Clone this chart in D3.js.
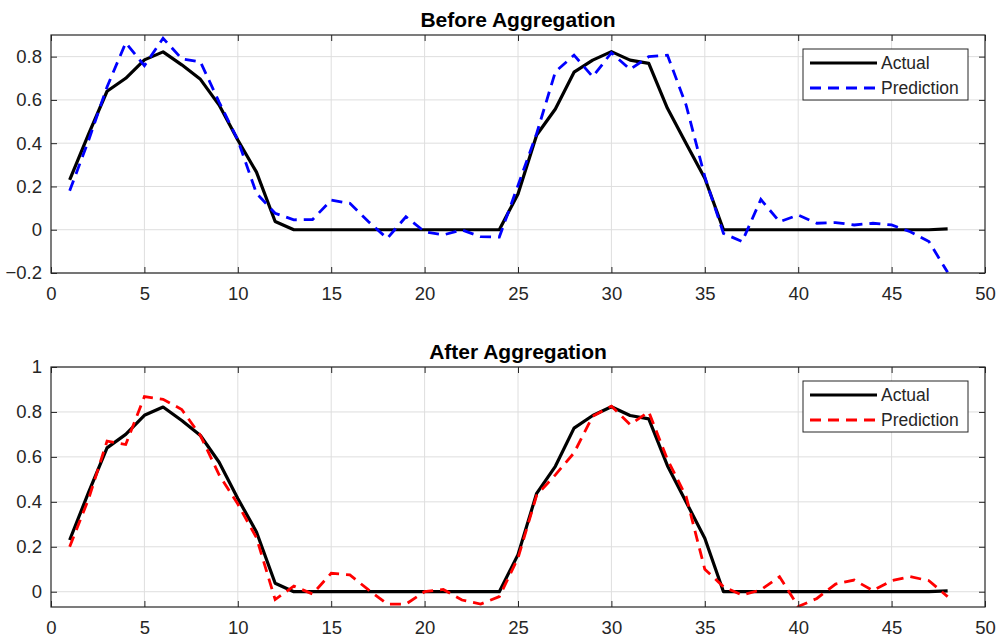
<!DOCTYPE html>
<html>
<head>
<meta charset="utf-8">
<script src="https://cdn.jsdelivr.net/npm/d3@7"></script>
<style>
  body { margin: 0; background: #fff; }
  svg { font-family: "Liberation Sans", Arial, sans-serif; }
</style>
</head>
<body>
<svg width="999" height="639"></svg>
<script>
// time steps 1..48
var steps = d3.range(1, 49);

var actual = [0.23, 0.44, 0.64, 0.70, 0.785, 0.822, 0.762, 0.695, 0.576, 0.415, 0.266, 0.038,
  0, 0, 0, 0, 0, 0, 0, 0, 0, 0, 0, 0,
  0.165, 0.438, 0.558, 0.728, 0.784, 0.823, 0.784, 0.769, 0.561, 0.399, 0.238, 0,
  0, 0, 0, 0, 0, 0, 0, 0, 0, 0, 0, 0.004];

var predBefore = [0.18, 0.41, 0.66, 0.864, 0.758, 0.885, 0.79, 0.776, 0.59, 0.415, 0.168, 0.076,
  0.046, 0.047, 0.137, 0.122, 0.037, -0.04, 0.06, -0.009, -0.024, -0.001, -0.032, -0.034,
  0.205, 0.445, 0.73, 0.807, 0.707, 0.818, 0.741, 0.80, 0.807, 0.576, 0.245, -0.017,
  -0.055, 0.14, 0.037, 0.068, 0.03, 0.033, 0.022, 0.03, 0.022, -0.009, -0.055, -0.197];

var predAfter = [0.20, 0.41, 0.67, 0.655, 0.868, 0.856, 0.811, 0.695, 0.52, 0.39, 0.24, -0.035,
  0.025, -0.01, 0.082, 0.075, 0.008, -0.055, -0.055, 0, 0.01, -0.037, -0.055, -0.022,
  0.15, 0.43, 0.52, 0.618, 0.781, 0.826, 0.744, 0.80, 0.588, 0.424, 0.10, 0.022,
  -0.015, 0.008, 0.067, -0.066, -0.03, 0.034, 0.052, 0.005, 0.049, 0.067, 0.049, -0.022];

var xTicks = [0, 5, 10, 15, 20, 25, 30, 35, 40, 45, 50];
var yTicksTop = [-0.2, 0, 0.2, 0.4, 0.6, 0.8];
var yTicksBottom = [0, 0.2, 0.4, 0.6, 0.8, 1];
var legendNames = ["Actual", "Prediction"];

var svg = d3.select("svg");
var axColor = "#262626";

function drawPanel(opt) {
  var left = 51, right = 985;
  var x = d3.scaleLinear().domain([0, 50]).range([left, right]);
  var y = d3.scaleLinear().domain(opt.yDomain).range([opt.bottom, opt.top]);
  var g = svg.append("g");

  // grid
  g.selectAll(".gx").data(xTicks.slice(1, -1)).enter().append("line")
    .attr("x1", x).attr("x2", x)
    .attr("y1", opt.top).attr("y2", opt.bottom)
    .attr("stroke", "#dedede").attr("stroke-width", 1);
  g.selectAll(".gy").data(opt.yTicks).enter().append("line")
    .attr("x1", left).attr("x2", right)
    .attr("y1", y).attr("y2", y)
    .attr("stroke", "#dedede").attr("stroke-width", 1);

  // clip for lines
  var clipId = "clip" + opt.id;
  svg.append("clipPath").attr("id", clipId).append("rect")
    .attr("x", left).attr("y", opt.top)
    .attr("width", right - left).attr("height", opt.bottom - opt.top);

  var line = d3.line()
    .x(function(d, i) { return x(steps[i]); })
    .y(function(d) { return y(d); });

  g.append("path").datum(actual)
    .attr("clip-path", "url(#" + clipId + ")")
    .attr("d", line).attr("fill", "none")
    .attr("stroke", "#000").attr("stroke-width", 3.2)
    .attr("stroke-linejoin", "round");

  g.append("path").datum(opt.pred)
    .attr("clip-path", "url(#" + clipId + ")")
    .attr("d", line).attr("fill", "none")
    .attr("stroke", opt.color).attr("stroke-width", 2.8)
    .attr("stroke-dasharray", "11,7");

  // axes with inward ticks on all sides
  var tk = 6;
  g.append("g").attr("transform", "translate(0," + opt.bottom + ")")
    .call(d3.axisBottom(x).tickValues(xTicks).tickSizeInner(-tk).tickSizeOuter(0).tickPadding(14));
  g.append("g").attr("transform", "translate(0," + opt.top + ")")
    .call(d3.axisTop(x).tickValues(xTicks).tickSizeInner(-tk).tickSizeOuter(0).tickFormat(""));
  g.append("g").attr("transform", "translate(" + left + ",0)")
    .call(d3.axisLeft(y).tickValues(opt.yTicks).tickSizeInner(-tk).tickSizeOuter(0).tickPadding(9)
      .tickFormat(function(d) { return d3.format("")(+d.toFixed(1)); }));
  g.append("g").attr("transform", "translate(" + right + ",0)")
    .call(d3.axisRight(y).tickValues(opt.yTicks).tickSizeInner(-tk).tickSizeOuter(0).tickFormat(""));

  g.selectAll(".domain").remove();
  g.selectAll(".tick line").attr("stroke", axColor).attr("stroke-width", 1);
  g.selectAll(".tick text").attr("fill", axColor).style("font-size", "18.5px")
    .style("font-family", "'Liberation Sans', Arial, sans-serif");

  g.append("rect")
    .attr("x", left).attr("y", opt.top)
    .attr("width", right - left).attr("height", opt.bottom - opt.top)
    .attr("fill", "none").attr("stroke", axColor).attr("stroke-width", 1.2);

  // title
  g.append("text")
    .attr("x", (left + right) / 2).attr("y", opt.top - 8)
    .attr("text-anchor", "middle")
    .style("font-size", "21px").style("font-weight", "bold")
    .attr("fill", "#000")
    .text(opt.title);

  // legend
  var lx = 803, ly = opt.top + 14, lw = 165, lh = 51;
  var lg = g.append("g");
  lg.append("rect").attr("x", lx).attr("y", ly).attr("width", lw).attr("height", lh)
    .attr("fill", "#fff").attr("stroke", axColor).attr("stroke-width", 1);
  var rows = [{ c: "#000", w: 3.2, dash: null }, { c: opt.color, w: 2.8, dash: "11,7" }];
  rows.forEach(function(r, i) {
    var ry = ly + 14 + i * 25;
    lg.append("line").attr("x1", lx + 7).attr("x2", lx + 74)
      .attr("y1", ry).attr("y2", ry)
      .attr("stroke", r.c).attr("stroke-width", r.w)
      .attr("stroke-dasharray", r.dash);
    lg.append("text").attr("x", lx + 78).attr("y", ry + 6)
      .style("font-size", "17.5px").attr("fill", axColor)
      .text(legendNames[i]);
  });
}

drawPanel({ id: 1, title: "Before Aggregation", top: 35, bottom: 273,
  yDomain: [-0.2, 0.9], yTicks: yTicksTop, pred: predBefore, color: "#0000ff" });
drawPanel({ id: 2, title: "After Aggregation", top: 367, bottom: 607,
  yDomain: [-0.068, 1], yTicks: yTicksBottom, pred: predAfter, color: "#ff0000" });
</script>
</body>
</html>
